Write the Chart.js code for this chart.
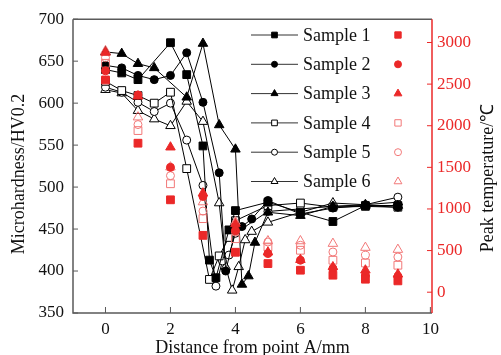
<!DOCTYPE html>
<html>
<head>
<meta charset="utf-8">
<script src="https://cdn.jsdelivr.net/npm/chart.js@4.4.0/dist/chart.umd.min.js"></script>
<style>
  body { margin: 0; background: #fff; }
  #c { display: block; }
</style>
</head>
<body>
<canvas id="c" width="501" height="355"></canvas>
<script>
  // microhardness, per sample (x = distance from point A, mm)
  const s1X = [0, 0.5, 1, 2, 2.5, 3, 3.2, 3.4, 3.8, 4, 5, 6, 7, 8, 9];
  const s1HV = [640, 636, 628, 672, 634, 549, 413, 392, 449, 472, 482, 470, 459, 478, 478];
  const s2X = [0, 0.5, 1, 1.5, 2, 2.5, 3, 3.5, 3.7, 4, 4.2, 4.5, 5, 6, 7, 8, 9];
  const s2HV = [645, 642, 633, 628, 633, 660, 601, 517, 400, 448, 453, 462, 484, 468, 475, 478, 476];
  const s3X = [0, 0.5, 1, 1.5, 2.5, 3, 3.5, 4, 4.2, 4.4, 4.6, 5, 6, 7, 8, 9];
  const s3HV = [661, 659, 647, 642, 607, 671, 574, 545, 384, 394, 434, 470, 466, 477, 478, 478];
  const s4X = [0, 0.5, 1, 1.5, 2, 2.5, 3.2, 3.5, 3.8, 4, 5, 6, 7, 8, 9];
  const s4HV = [626, 615, 609, 600, 613, 522, 390, 418, 440, 460, 478, 481, 476, 477, 476];
  const s5X = [0, 0.5, 1, 1.5, 2, 2.5, 3, 3.4, 3.6, 3.8, 4, 5, 6, 7, 8, 9];
  const s5HV = [619, 613, 601, 590, 600, 556, 502, 382, 412, 419, 445, 471, 474, 477, 479, 488];
  const s6X = [0, 0.5, 1, 1.5, 2, 2.5, 3, 3.5, 3.7, 3.9, 4.1, 4.3, 4.5, 5, 6, 7, 8, 9];
  const s6HV = [616, 612, 591, 581, 573, 602, 578, 481, 405, 377, 405, 437, 447, 458, 470, 481, 479, 482];

  // peak temperature, per sample
  const tempX = [0, 1, 2, 3, 4, 5, 6, 7, 8, 9];
  const t1 = [2550, 1790, 1110, 683, 480, 344, 264, 204, 156, 136];
  const t2 = [2660, 2370, 1500, 1150, 740, 464, 384, 284, 204, 190];
  const t3 = [2880, 2354, 1742, 1190, 820, 480, 390, 303, 264, 215];
  const t4 = [2750, 1942, 1303, 884, 643, 543, 504, 384, 351, 324];
  const t5 = [2818, 2014, 1400, 975, 723, 603, 564, 483, 444, 423];
  const t6 = [2900, 2103, 1502, 1083, 843, 615, 615, 584, 536, 512];

  const labels = ['Sample 1', 'Sample 2', 'Sample 3', 'Sample 4', 'Sample 5', 'Sample 6'];
  const xTicks = [0, 2, 4, 6, 8, 10];
  const hvTicks = [350, 400, 450, 500, 550, 600, 650, 700];
  const tempTicks = [0, 500, 1000, 1500, 2000, 2500, 3000];

  const RED = 'rgb(235,40,40)';
  const PINK = 'rgb(242,120,120)';
  const AXIS = '#5a5a5a';
  const FONT = '"Liberation Serif", "Times New Roman", serif';

  const styles = [
    { shape: 'rect', filled: true, r: 5.5 },
    { shape: 'circle', filled: true, r: 4 },
    { shape: 'triangle', filled: true, r: 5.5 },
    { shape: 'rect', filled: false, r: 5.5 },
    { shape: 'circle', filled: false, r: 4 },
    { shape: 'triangle', filled: false, r: 5.5 }
  ];

  const pts = (xs, ys) => xs.map((x, i) => ({ x: x, y: ys[i] }));
  const hvData = [pts(s1X, s1HV), pts(s2X, s2HV), pts(s3X, s3HV), pts(s4X, s4HV), pts(s5X, s5HV), pts(s6X, s6HV)];
  const tData = [t1, t2, t3, t4, t5, t6].map(t => pts(tempX, t));

  const datasets = [];
  tData.forEach((d, i) => {
    const st = styles[i];
    datasets.push({
      label: labels[i] + ' T',
      data: d,
      yAxisID: 'y1',
      showLine: false,
      order: 0,
      pointStyle: st.shape,
      pointRadius: st.r,
      borderWidth: 1,
      pointBorderColor: st.filled ? RED : PINK,
      pointBackgroundColor: st.filled ? RED : 'rgba(0,0,0,0)'
    });
  });
  hvData.forEach((d, i) => {
    const st = styles[i];
    datasets.push({
      label: labels[i],
      data: d,
      yAxisID: 'y',
      showLine: true,
      order: 1,
      borderColor: '#000',
      borderWidth: 1,
      pointStyle: st.shape,
      pointRadius: st.r,
      pointBorderWidth: 1,
      pointBorderColor: '#000',
      pointBackgroundColor: st.filled ? '#000' : '#fff'
    });
  });

  function marker(ctx, shape, x, y, r, fill, stroke) {
    ctx.beginPath();
    if (shape === 'rect') {
      const s = r * Math.SQRT1_2;
      ctx.rect(x - s, y - s, 2 * s, 2 * s);
    } else if (shape === 'circle') {
      ctx.arc(x, y, r, 0, Math.PI * 2);
    } else {
      ctx.moveTo(x, y - r);
      ctx.lineTo(x + r * 0.866, y + r * 0.5);
      ctx.lineTo(x - r * 0.866, y + r * 0.5);
      ctx.closePath();
    }
    if (fill) { ctx.fillStyle = fill; ctx.fill(); }
    ctx.strokeStyle = stroke;
    ctx.lineWidth = 1;
    ctx.stroke();
  }

  const frame = {
    id: 'frame',
    afterDraw(chart) {
      const ctx = chart.ctx;
      const a = chart.chartArea;
      const xs = chart.scales.x, ys = chart.scales.y, ys1 = chart.scales.y1;
      ctx.save();
      ctx.lineWidth = 1.5;
      // gray frame: left, bottom, top
      ctx.strokeStyle = AXIS;
      ctx.beginPath();
      ctx.moveTo(a.left, a.top); ctx.lineTo(a.left, a.bottom); ctx.lineTo(a.right, a.bottom);
      ctx.moveTo(a.left, a.top); ctx.lineTo(a.right, a.top);
      ctx.stroke();
      // inward ticks
      ctx.lineWidth = 1;
      ctx.beginPath();
      hvTicks.forEach(v => { const p = ys.getPixelForValue(v); ctx.moveTo(a.left, p); ctx.lineTo(a.left + 5, p); });
      xTicks.forEach(v => { const p = xs.getPixelForValue(v); ctx.moveTo(p, a.bottom); ctx.lineTo(p, a.bottom - 6); });
      ctx.stroke();
      // red right axis
      ctx.strokeStyle = RED;
      ctx.lineWidth = 1.5;
      ctx.beginPath();
      ctx.moveTo(a.right, a.top); ctx.lineTo(a.right, a.bottom);
      ctx.stroke();
      ctx.lineWidth = 1;
      ctx.beginPath();
      tempTicks.forEach(v => { const p = ys1.getPixelForValue(v); ctx.moveTo(a.right, p); ctx.lineTo(a.right - 5, p); });
      ctx.stroke();

      // axis titles
      ctx.font = '18px ' + FONT;
      ctx.textAlign = 'center';
      ctx.textBaseline = 'middle';
      ctx.fillStyle = '#111';
      ctx.fillText('Distance from point A/mm', (a.left + a.right) / 2, 348);
      ctx.save();
      ctx.translate(19, 174);
      ctx.rotate(-Math.PI / 2);
      ctx.fillText('Microhardness/HV0.2', 0, 0);
      ctx.restore();
      ctx.save();
      ctx.translate(488, 178);
      ctx.rotate(-Math.PI / 2);
      ctx.fillText('Peak temperature/\u2103', 0, 0);
      ctx.restore();

      // legend
      ctx.textAlign = 'left';
      labels.forEach((lab, i) => {
        const y = 35 + i * 29.3;
        const st = styles[i];
        ctx.strokeStyle = '#333';
        ctx.lineWidth = 1;
        ctx.beginPath();
        ctx.moveTo(251, y); ctx.lineTo(298, y);
        ctx.stroke();
        marker(ctx, st.shape, 274.5, y, st.shape === 'circle' ? 3 : 4, st.filled ? '#000' : '#fff', '#000');
        ctx.fillStyle = '#111';
        ctx.fillText(lab, 303, y + 1);
        marker(ctx, st.shape, 398, y, st.shape === 'circle' ? 3.5 : 4.5, st.filled ? RED : null, st.filled ? RED : PINK);
      });
      ctx.restore();
    }
  };

  new Chart(document.getElementById('c'), {
    type: 'scatter',
    data: { datasets: datasets },
    options: {
      responsive: false,
      animation: false,
      layout: { padding: { top: 19, left: 0, right: 0, bottom: 0 } },
      plugins: { legend: { display: false }, tooltip: { enabled: false } },
      scales: {
        x: {
          type: 'linear',
          min: -1,
          max: 10.05,
          afterBuildTicks: s => { s.ticks = xTicks.map(v => ({ value: v })); },
          afterFit: s => { s.height = 42; },
          grid: { display: false, drawTicks: false },
          border: { display: false },
          ticks: { color: '#111', padding: 6, font: { family: FONT, size: 17 }, callback: v => String(v) }
        },
        y: {
          position: 'left',
          min: 350,
          max: 700,
          afterBuildTicks: s => { s.ticks = hvTicks.map(v => ({ value: v })); },
          afterFit: s => { s.width = 73; },
          grid: { display: false, drawTicks: false },
          border: { display: false },
          ticks: { color: '#111', padding: 9, font: { family: FONT, size: 17 }, callback: v => String(v) }
        },
        y1: {
          position: 'right',
          min: -250,
          max: 3280,
          afterBuildTicks: s => { s.ticks = tempTicks.map(v => ({ value: v })); },
          afterFit: s => { s.width = 69; },
          grid: { display: false, drawTicks: false },
          border: { display: false },
          ticks: { color: RED, padding: 5, font: { family: FONT, size: 17 }, callback: v => String(v) }
        }
      }
    },
    plugins: [frame]
  });
</script>
</body>
</html>
